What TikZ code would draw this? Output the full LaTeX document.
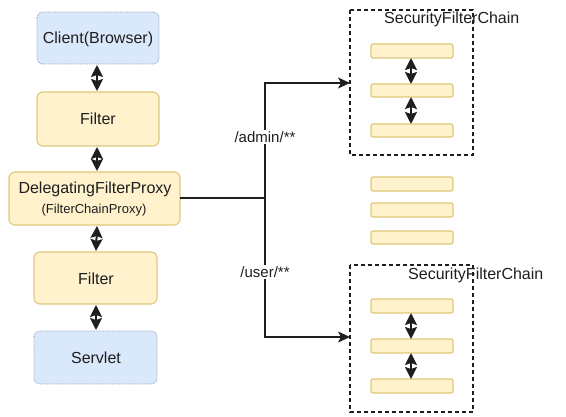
\documentclass[tikz,border=0pt]{standalone}
\usepackage{fontspec}
\setmainfont{Liberation Sans}
\usetikzlibrary{arrows.meta}
\definecolor{bfill}{HTML}{DAE8FC}
\definecolor{bdraw}{HTML}{8E9BB0}
\definecolor{yfill}{HTML}{FFF2CC}
\definecolor{ydraw}{HTML}{E0C77A}
\definecolor{ink}{HTML}{1E1E1E}
\begin{document}
\begin{tikzpicture}[x=1pt,y=-1pt,
  bluebox/.style={draw=bdraw,fill=bfill,rounded corners=6pt,line width=0.8pt,densely dotted},
  yelbox/.style={draw=ydraw,fill=yfill,rounded corners=6pt,line width=1.1pt},
  bar/.style={draw=ydraw,fill=yfill,rounded corners=2pt,line width=1.3pt},
  chainbox/.style={draw=ink,dash pattern=on 4pt off 3pt,line width=1.2pt},
  txt/.style={font=\fontsize{16}{18}\selectfont,text=ink},
  lbl/.style={font=\fontsize{15}{17}\selectfont,text=ink,fill=white,inner sep=1pt},
  dbl/.style={{Stealth[length=12pt,width=12pt,inset=2pt]}-{Stealth[length=12pt,width=12pt,inset=2pt]},line width=2pt,draw=ink},
  conn/.style={-{Stealth[length=12pt,width=11pt,inset=3pt]},line width=1.2pt,draw=ink}]
\useasboundingbox (0,0) rectangle (566,417);
% left column
\draw[bluebox] (37,12) rectangle (159,64);
\node[txt] (client) at (98,39) {Client(Browser)};
\coordinate (clientB) at (97,65);
\draw[yelbox] (37,92) rectangle (159,146);
\node[txt] (f1) at (98,119) {Filter};
\coordinate (f1T) at (97,91);
\coordinate (f1B) at (97,147);
\draw[yelbox] (9,172) rectangle (180,225);
\node[txt] (dfp) at (95,189) {DelegatingFilterProxy};
\node[font=\fontsize{13}{15}\selectfont,text=ink] (fcp) at (94,210) {(FilterChainProxy)};
\coordinate (dfpT) at (97,171);
\coordinate (dfpB) at (97,226);
\coordinate (dfpR) at (180,198);
\draw[yelbox] (34,252) rectangle (157,304);
\node[txt] (f2) at (96,279) {Filter};
\coordinate (f2T) at (96,251);
\coordinate (f2B) at (96,305);
\draw[bluebox] (34,331) rectangle (157,384);
\node[txt] (servlet) at (96,358) {Servlet};
\coordinate (servT) at (96,330);
\draw[dbl] (clientB) -- (f1T);
\draw[dbl] (f1B) -- (dfpT);
\draw[dbl] (dfpB) -- (f2T);
\draw[dbl] (f2B) -- (servT);
% upper chain
\draw[chainbox] (350,10) rectangle (473,155);
\node[txt,anchor=west,inner sep=0pt] (sfc1) at (384,19) {SecurityFilterChain};
\draw[bar] (371,44) rectangle (453,58);
\draw[bar] (371,84) rectangle (453,97);
\draw[bar] (371,124) rectangle (453,137);
\coordinate (a1) at (411,58);
\coordinate (a2) at (411,84);
\coordinate (a3) at (411,97);
\coordinate (a4) at (411,124);
\draw[dbl] (a1) -- (a2);
\draw[dbl] (a3) -- (a4);
% middle bars
\draw[bar] (371,177) rectangle (453,191);
\draw[bar] (371,203) rectangle (453,217);
\draw[bar] (371,231) rectangle (453,244);
% lower chain
\draw[chainbox] (350,265) rectangle (473,412);
\node[txt,anchor=west,inner sep=0pt] (sfc2) at (408,275) {SecurityFilterChain};
\draw[bar] (371,299) rectangle (453,313);
\draw[bar] (371,339) rectangle (453,353);
\draw[bar] (371,379) rectangle (453,393);
\coordinate (b1) at (411,313);
\coordinate (b2) at (411,339);
\coordinate (b3) at (411,353);
\coordinate (b4) at (411,379);
\draw[dbl] (b1) -- (b2);
\draw[dbl] (b3) -- (b4);
% connectors
\coordinate (split) at (265,198);
\coordinate (upin) at (350,83);
\coordinate (lowin) at (350,337);
\draw[line width=1.2pt,draw=ink] (dfpR) -- (split);
\draw[conn] (split) |- (upin);
\draw[conn] (split) |- (lowin);
\node[lbl] (admin) at (265,137) {/admin/**};
\node[lbl] (user) at (265,272) {/user/**};
\end{tikzpicture}
\end{document}
